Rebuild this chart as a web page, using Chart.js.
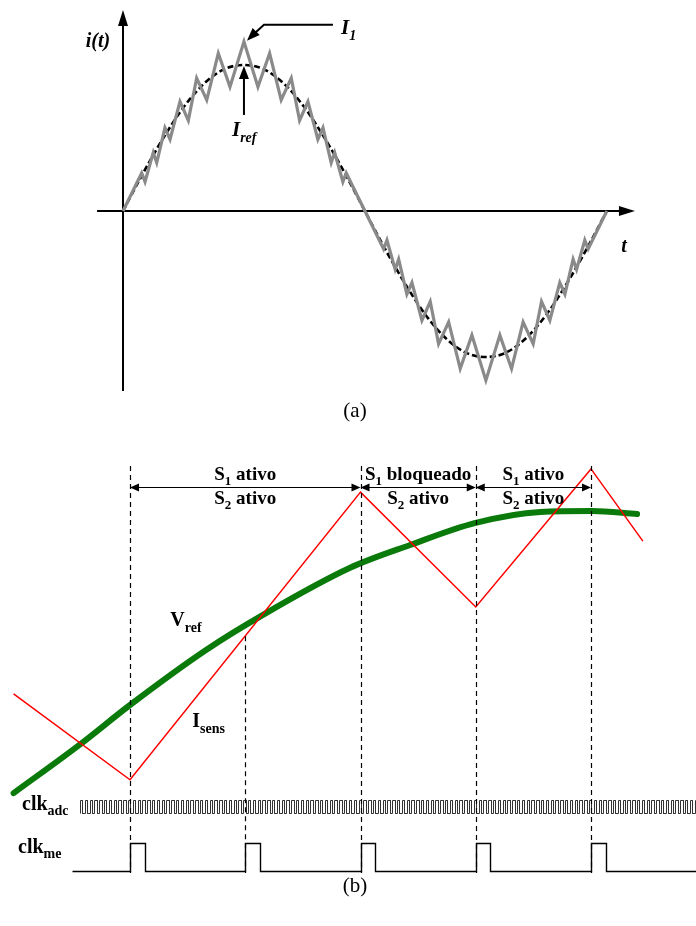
<!DOCTYPE html>
<html>
<head>
<meta charset="utf-8">
<script src="https://cdn.jsdelivr.net/npm/chart.js@4.4.1/dist/chart.umd.min.js"></script>
<style>
  body { margin: 0; background: #fff; }
  #wrap { position: relative; width: 696px; height: 926px; }
  canvas { position: absolute; left: 0; }
  .cap { position: absolute; width: 696px; text-align: center;
         font: 21px "Liberation Serif", serif; color: #000; }
</style>
</head>
<body>
<div id="wrap">
  <canvas id="chart_a" width="696" height="400" style="top:0"></canvas>
  <div class="cap" style="top:398px;left:7px">(a)</div>
  <canvas id="chart_b" width="696" height="430" style="top:450px"></canvas>
  <div class="cap" style="top:873px;left:7px">(b)</div>
</div>

<script>
// ---------- (a) i(t) : reference and switched current ----------
// reference current, every 15 degrees
const refT = [0, 15, 30, 45, 60, 75, 90, 105, 120, 135, 150, 165, 180,
              195, 210, 225, 240, 255, 270, 285, 300, 315, 330, 345, 360];
const refI = [0, 0.26, 0.50, 0.71, 0.87, 0.97, 1.00, 0.97, 0.87, 0.71, 0.50, 0.26, 0,
              -0.26, -0.50, -0.71, -0.87, -0.97, -1.00, -0.97, -0.87, -0.71, -0.50, -0.26, 0];

// I1 ripple vertices
const i1T = [0, 13.9, 16.4, 22.5, 25.1, 31.2, 35.0, 42.4, 48.6, 54.8, 62.3, 70.9, 79.6, 90.0,
             100.4, 109.1, 117.7, 125.2, 131.4, 137.6, 145.0, 148.8, 154.9, 157.5, 163.6, 166.1, 180,
             193.9, 196.4, 202.5, 205.1, 211.2, 215.0, 222.4, 228.6, 234.8, 242.3, 250.9, 259.6, 270.0,
             280.4, 289.1, 297.7, 305.2, 311.4, 317.6, 325.0, 328.8, 334.9, 337.5, 343.6, 346.1, 360];
const i1I = [0, 0.26, 0.20, 0.40, 0.33, 0.57, 0.49, 0.75, 0.62, 0.91, 0.76, 1.08, 0.85, 1.16,
             0.85, 1.08, 0.76, 0.91, 0.62, 0.75, 0.49, 0.57, 0.33, 0.40, 0.20, 0.26, 0,
             -0.26, -0.20, -0.40, -0.33, -0.57, -0.49, -0.75, -0.62, -0.91, -0.76, -1.08, -0.85, -1.16,
             -0.85, -1.08, -0.76, -0.91, -0.62, -0.75, -0.49, -0.57, -0.33, -0.40, -0.20, -0.26, 0];

// axis extents (degrees / per-unit)
const tAxis = [-19.3, 380.9];
const iAxis = [-1.233, 1.377];

// ---------- (b) timing diagram, time in sampling periods ----------
const sampleT = [0, 1, 2, 3, 4];
const sampleTop = [96.3, 56.7, 96.3, 96.3, 96.3];
const sampleBottom = 1.6;

const isensT = [-1.01, 0, 2, 3, 4, 4.45];
const isensV = [43.3, 23.3, 90.2, 63.5, 95.6, 78.8];

const vrefT = [-1.01, -0.43, 0, 0.66, 1.15, 1.91, 2.43, 2.99, 3.56, 4.01, 4.40];
const vrefV = [20.2, 31.6, 40.7, 53.5, 61.6, 72.6, 77.9, 83.0, 85.6, 85.8, 85.1];

// ADC clock: 24 cycles per sampling period
const adcLow = 15.6, adcHigh = 18.7;
const adcStart = -0.434, adcEnd = 4.92, adcCycles = 24;

// modulator clock pulses at each sampling instant
const meLow = 2.1, meHigh = 8.7;
const meStart = -0.503, meEnd = 4.92, meWidth = 0.126;

// switch states per interval
const intervals = [[0, 2], [2, 3], [3, 4]];
const topLabels = [['S', '1', ' ativo'], ['S', '1', ' bloqueado'], ['S', '1', ' ativo']];
const botLabels = [['S', '2', ' ativo'], ['S', '2', ' ativo'], ['S', '2', ' ativo']];
const arrowV = 91.4;

const SERIF = '"Liberation Serif", "Times New Roman", serif';

function pts(xs, ys) {
  return xs.map((x, k) => ({ x: x, y: ys[k] }));
}

function adcPoints() {
  const out = [];
  const half = 1 / adcCycles / 2;
  let t = adcStart;
  out.push({ x: t, y: adcLow });
  let high = false;
  while (t < adcEnd) {
    high = !high;
    out.push({ x: t, y: high ? adcHigh : adcLow });
    t += half;
    out.push({ x: t, y: high ? adcHigh : adcLow });
  }
  return out;
}

function mePoints() {
  const out = [{ x: meStart, y: meLow }];
  sampleT.forEach(t => {
    out.push({ x: t, y: meLow }, { x: t, y: meHigh },
             { x: t + meWidth, y: meHigh }, { x: t + meWidth, y: meLow });
  });
  out.push({ x: meEnd, y: meLow });
  return out;
}

// text with a subscript part: [base, sub, rest]
function subText(ctx, parts, x, y, size, subSize, style, align) {
  const f1 = style + ' ' + size + 'px ' + SERIF;
  const f2 = style + ' ' + subSize + 'px ' + SERIF;
  ctx.font = f1; const w1 = ctx.measureText(parts[0]).width;
  ctx.font = f2; const w2 = ctx.measureText(parts[1]).width;
  ctx.font = f1; const w3 = parts[2] ? ctx.measureText(parts[2]).width : 0;
  let x0 = x;
  if (align === 'center') x0 = x - (w1 + w2 + w3) / 2;
  ctx.textAlign = 'left';
  ctx.textBaseline = 'alphabetic';
  ctx.fillStyle = '#000';
  ctx.font = f1; ctx.fillText(parts[0], x0, y);
  ctx.font = f2; ctx.fillText(parts[1], x0 + w1, y + size * 0.28);
  if (parts[2]) { ctx.font = f1; ctx.fillText(parts[2], x0 + w1 + w2, y); }
}

function arrowHead(ctx, x, y, dx, dy, len, half) {
  const n = Math.hypot(dx, dy); dx /= n; dy /= n;
  ctx.beginPath();
  ctx.moveTo(x, y);
  ctx.lineTo(x - dx * len - dy * half, y - dy * len + dx * half);
  ctx.lineTo(x - dx * len + dy * half, y - dy * len - dx * half);
  ctx.closePath();
  ctx.fill();
}

const baseOpts = (xr, yr) => ({
  responsive: false,
  animation: false,
  layout: { padding: 0 },
  plugins: { legend: { display: false }, tooltip: { enabled: false } },
  elements: { point: { radius: 0 } },
  scales: {
    x: { type: 'linear', display: false, min: xr[0], max: xr[1] },
    y: { type: 'linear', display: false, min: yr[0], max: yr[1] }
  }
});

// ---- chart (a) ----
const axesA = {
  id: 'axesA',
  beforeDatasetsDraw(chart) {
    const { ctx, scales: { x, y } } = chart;
    ctx.save();
    ctx.strokeStyle = '#000'; ctx.fillStyle = '#000'; ctx.lineWidth = 2;
    const y0 = y.getPixelForValue(0), x0 = x.getPixelForValue(0);
    const xa = x.getPixelForValue(tAxis[0]), xb = x.getPixelForValue(tAxis[1]);
    const ya = y.getPixelForValue(iAxis[0]), yb = y.getPixelForValue(iAxis[1]);
    ctx.beginPath(); ctx.moveTo(xa, y0); ctx.lineTo(xb - 8, y0); ctx.stroke();
    ctx.beginPath(); ctx.moveTo(x0, ya); ctx.lineTo(x0, yb + 8); ctx.stroke();
    arrowHead(ctx, xb, y0, 1, 0, 16, 5);
    arrowHead(ctx, x0, yb, 0, -1, 16, 5);
    ctx.restore();
  },
  afterDatasetsDraw(chart) {
    const { ctx, scales: { x, y } } = chart;
    ctx.save();
    ctx.fillStyle = '#000'; ctx.strokeStyle = '#000';
    // axis names
    ctx.font = 'italic bold 20px ' + SERIF;
    ctx.textAlign = 'center'; ctx.textBaseline = 'alphabetic';
    ctx.fillText('i(t)', x.getPixelForValue(0) - 25, 47);
    ctx.fillText('t', x.getPixelForValue(tAxis[1]) - 11, 252);
    // I1 callout to the ripple peak
    const px = x.getPixelForValue(90), py = y.getPixelForValue(1.16);
    ctx.lineWidth = 2;
    ctx.beginPath();
    ctx.moveTo(px + 89, py - 17); ctx.lineTo(px + 20, py - 17); ctx.lineTo(px + 8, py - 6);
    ctx.stroke();
    arrowHead(ctx, px + 3, py - 1, -1, 1, 13, 5);
    subText(ctx, ['I', '1', ''], px + 97, py - 8, 21, 14, 'italic bold', 'left');
    // Iref arrow to the reference peak
    const ry = y.getPixelForValue(1.0);
    ctx.beginPath(); ctx.moveTo(px, ry + 50); ctx.lineTo(px, ry + 12); ctx.stroke();
    arrowHead(ctx, px, ry + 1, 0, -1, 13, 5);
    subText(ctx, ['I', 'ref', ''], px - 12, ry + 71, 21, 14, 'italic bold', 'left');
    ctx.restore();
  }
};

new Chart(document.getElementById('chart_a'), {
  type: 'scatter',
  data: {
    datasets: [
      { label: 'I1', data: pts(i1T, i1I), showLine: true, borderColor: '#8a8a8a',
        borderWidth: 3.2, borderJoinStyle: 'miter', order: 0 },
      { label: 'Iref', data: pts(refT, refI), showLine: true, borderColor: '#000',
        borderWidth: 2.6, borderDash: [6, 3], cubicInterpolationMode: 'monotone', order: 1 }
    ]
  },
  options: baseOpts([-123 / 1.344, 573 / 1.344], [-189 / 146, 211 / 146]),
  plugins: [axesA]
});

// ---- chart (b) ----
// keep the clock edges on whole pixels so the pulses stay sharp
const snapClocks = {
  id: 'snapClocks',
  afterDatasetsUpdate(chart) {
    chart.data.datasets.forEach((ds, k) => {
      if (!ds.snap) return;
      chart.getDatasetMeta(k).data.forEach(p => {
        p.x = Math.round(p.x) + 0.5;
        p.y = Math.round(p.y) + 0.5;
      });
    });
  }
};

const marksB = {
  id: 'marksB',
  afterDatasetsDraw(chart) {
    const { ctx, scales: { x, y } } = chart;
    ctx.save();
    // sampling instants
    ctx.strokeStyle = '#000'; ctx.lineWidth = 1.2; ctx.setLineDash([5, 4]);
    sampleT.forEach((t, k) => {
      const px = Math.round(x.getPixelForValue(t)) + 0.5;
      ctx.beginPath();
      ctx.moveTo(px, y.getPixelForValue(sampleTop[k]));
      ctx.lineTo(px, y.getPixelForValue(sampleBottom));
      ctx.stroke();
    });
    ctx.setLineDash([]);
    // interval arrows and switch states
    const ay = Math.round(y.getPixelForValue(arrowV)) + 0.5;
    ctx.fillStyle = '#000'; ctx.lineWidth = 1.2;
    intervals.forEach((iv, k) => {
      const xa = x.getPixelForValue(iv[0]), xb = x.getPixelForValue(iv[1]);
      ctx.beginPath(); ctx.moveTo(xa + 2, ay); ctx.lineTo(xb - 2, ay); ctx.stroke();
      arrowHead(ctx, xa, ay, -1, 0, 9, 4);
      arrowHead(ctx, xb, ay, 1, 0, 9, 4);
      const cx = (xa + xb) / 2;
      subText(ctx, topLabels[k], cx, ay - 8, 19, 13, 'bold', 'center');
      subText(ctx, botLabels[k], cx, ay + 16, 19, 13, 'bold', 'center');
    });
    // signal names
    subText(ctx, ['V', 'ref', ''], x.getPixelForValue(0.35), y.getPixelForValue(59), 20, 14, 'bold', 'left');
    subText(ctx, ['I', 'sens', ''], x.getPixelForValue(0.54), y.getPixelForValue(35.5), 20, 14, 'bold', 'left');
    subText(ctx, ['clk', 'adc', ''], 22, y.getPixelForValue(adcHigh) + 10, 20, 14, 'bold', 'left');
    subText(ctx, ['clk', 'me', ''], 18, y.getPixelForValue(meHigh) + 10, 20, 14, 'bold', 'left');
    ctx.restore();
  }
};

new Chart(document.getElementById('chart_b'), {
  type: 'scatter',
  data: {
    datasets: [
      { label: 'Isens', data: pts(isensT, isensV), showLine: true, borderColor: '#ff0000',
        borderWidth: 1.5, order: 0 },
      { label: 'Vref', data: pts(vrefT, vrefV), showLine: true, borderColor: '#0a7a0a',
        borderWidth: 6, borderCapStyle: 'round', cubicInterpolationMode: 'monotone', order: 1 },
      { label: 'clk_adc', data: adcPoints(), showLine: true, borderColor: '#333',
        borderWidth: 1, snap: true, order: 2 },
      { label: 'clk_me', data: mePoints(), showLine: true, borderColor: '#000',
        borderWidth: 1.4, snap: true, order: 3 }
    ]
  },
  options: baseOpts([-130 / 115.25, 566 / 115.25], [0, 100]),
  plugins: [snapClocks, marksB]
});
</script>
</body>
</html>
